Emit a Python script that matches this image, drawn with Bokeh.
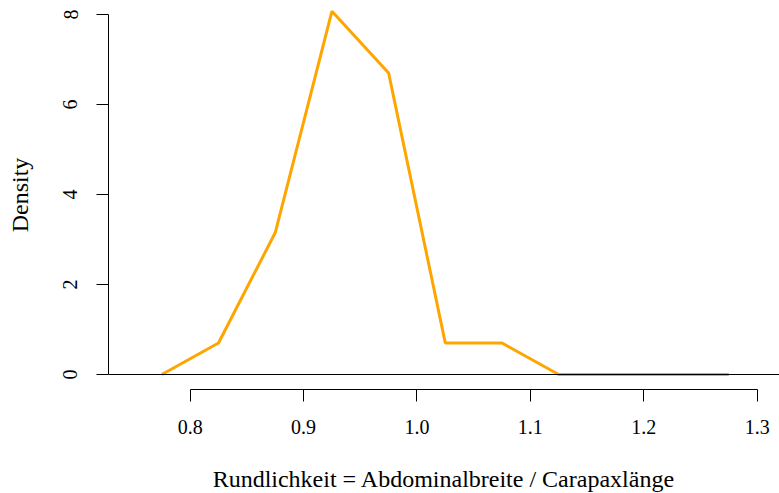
from bokeh.plotting import figure
from bokeh.models import Span, FixedTicker, Range1d
from bokeh.embed import file_html
from bokeh.resources import INLINE

# Data (frequency polygon)
x_mid = [0.775, 0.825, 0.875, 0.925, 0.975, 1.025, 1.075, 1.125, 1.175, 1.225, 1.275]
density = [0.0, 0.70, 3.15, 8.07, 6.70, 0.70, 0.70, 0.0, 0.0, 0.0, 0.0]
x_ticks = [0.8, 0.9, 1.0, 1.1, 1.2, 1.3]
x_tick_labels = ["0.8", "0.9", "1.0", "1.1", "1.2", "1.3"]
y_ticks = [0, 2, 4, 6, 8]

FONT = "Liberation Serif"

p = figure(
    frame_width=671, frame_height=389,
    min_border_left=108, min_border_right=0, min_border_top=0, min_border_bottom=104,
    x_range=Range1d(0.728, 1.3197), y_range=Range1d(-0.333, 8.311),
    output_backend="svg", toolbar_location=None,
    x_axis_label="Rundlichkeit = Abdominalbreite / Carapaxlänge",
    y_axis_label="Density",
)
p.outline_line_color = None
p.grid.visible = False
p.background_fill_color = "white"
p.border_fill_color = "white"

p.add_layout(Span(location=0, dimension="width", line_color="black", line_width=1.2))
p.line(x_mid, density, line_color="#FFA500", line_width=3)

xa = p.xaxis[0]
xa.ticker = FixedTicker(ticks=x_ticks)
xa.major_label_overrides = {t: l for t, l in zip(x_ticks, x_tick_labels)}
xa.bounds = (0.8, 1.3)

ya = p.yaxis[0]
ya.ticker = FixedTicker(ticks=y_ticks)
ya.bounds = (0, 8)
ya.major_label_orientation = "vertical"

for ax in (xa, ya):
    ax.minor_tick_line_color = None
    ax.major_tick_out = 12
    ax.major_tick_in = 0
    ax.axis_line_color = "black"
    ax.major_tick_line_color = "black"
    ax.major_label_text_font = FONT
    ax.major_label_text_font_size = "20px"
    ax.major_label_text_color = "black"
    ax.axis_label_text_font = FONT
    ax.axis_label_text_font_size = "24px"
    ax.axis_label_text_font_style = "normal"
    ax.axis_label_text_color = "black"

xa.major_label_standoff = 18
xa.axis_label_standoff = 29
ya.major_label_standoff = 19
ya.axis_label_standoff = 28

open("out.html", "w").write(file_html(p, INLINE))
